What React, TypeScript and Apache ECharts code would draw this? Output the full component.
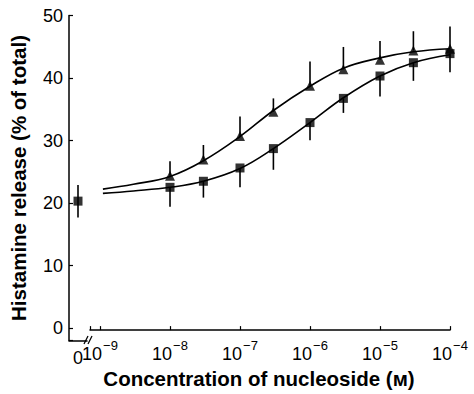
import React, { useEffect, useRef } from "react";
import * as echarts from "echarts";

// Concentrations (M)
const concentrations = [1e-8, 3e-8, 1e-7, 3e-7, 1e-6, 3e-6, 1e-5, 3e-5, 1e-4];
// Triangle series (mean, upward SEM)
const triangleValues = [23.5, 26.2, 30.1, 34.1, 38.4, 41.1, 42.7, 44.2, 44.5];
const triangleErrors = [2.4, 2.4, 3.2, 2.2, 4.0, 3.7, 3.1, 3.2, 3.7];
// Square series (mean, downward SEM)
const squareValues = [21.6, 22.6, 24.8, 28.0, 32.3, 36.3, 40.0, 42.2, 43.7];
const squareErrors = [3.2, 2.7, 3.2, 3.5, 2.9, 2.4, 3.4, 3.0, 3.1];
// Control (zero concentration)
const controlCategories = ["0"];
const controlValues = [20.3];
const controlErrors = [2.6];
// Fitted curves
const fitX = [1.1e-9, 3e-9, 1e-8, 3e-8, 1e-7, 3e-7, 1e-6, 3e-6, 1e-5, 3e-5, 1e-4];
const triangleFit = [21.3, 22.1, 23.4, 26.0, 30.0, 34.3, 38.3, 41.3, 43.0, 44.0, 44.5];
const squareFit = [20.6, 21.0, 21.6, 22.6, 24.7, 28.0, 32.3, 36.4, 40.0, 42.2, 43.5];
// Axis
const yTicks = [0, 10, 20, 30, 40, 50];
const yMin = -2;
const yMax = 50;
const xMin = Math.pow(10, -9.143);
const xMax = 1e-4;

const FONT = "'Liberation Sans', Arial, Helvetica, sans-serif";

export default function App() {
  const ref = useRef<HTMLDivElement>(null);
  useEffect(() => {
    if (!ref.current) return;
    const chart = echarts.init(ref.current, null, { renderer: "svg" });
    const black = "#000";
    const errRender = (params: any, api: any) => {
      const x = api.value(0);
      const v = api.value(1);
      const up = api.value(2);
      const down = api.value(3);
      const p1 = api.coord([x, v - down]);
      const p2 = api.coord([x, v + up]);
      return {
        type: "line",
        shape: { x1: p1[0], y1: p1[1], x2: p2[0], y2: p2[1] },
        style: { stroke: black, lineWidth: 1.6 },
      };
    };
    const axisLine = { show: true, onZero: false, lineStyle: { color: black, width: 1.5 } };
    const axisTick = { show: true, inside: true, length: 4, lineStyle: { color: black, width: 1.2 } };
    chart.setOption({
      animation: false,
      backgroundColor: "#fff",
      textStyle: { fontFamily: FONT },
      grid: [
        { left: 69, width: 18, top: 15.5, bottom: 53.5 },
        { left: 90, right: 24, top: 15.5, bottom: 53.5 },
      ],
      xAxis: [
        {
          type: "category",
          gridIndex: 0,
          data: controlCategories,
          boundaryGap: true,
          axisLine,
          axisTick: { show: false },
          axisLabel: { color: black, fontSize: 18, margin: 8, fontFamily: FONT },
          splitLine: { show: false },
        },
        {
          type: "log",
          gridIndex: 1,
          logBase: 10,
          min: xMin,
          max: xMax,
          axisLine,
          axisTick,
          splitLine: { show: false },
          minorTick: { show: false },
          axisLabel: {
            margin: 9,
            fontFamily: FONT,
            formatter: (v: number) => {
              const e = Math.log10(v);
              const r = Math.round(e);
              if (Math.abs(e - r) > 1e-6) return "";
              return "{b|10}{s|\u2212" + Math.abs(r) + "}";
            },
            rich: {
              b: { fontSize: 18, color: black, fontFamily: FONT, lineHeight: 24, verticalAlign: "bottom" },
              s: { fontSize: 13, color: black, fontFamily: FONT, lineHeight: 24, verticalAlign: "top", padding: [0, 0, 0, 1] },
            },
          },
          name: "Concentration of nucleoside (\u043c)",
          nameLocation: "middle",
          nameGap: 35,
          nameTextStyle: { color: black, fontSize: 20.5, fontWeight: "bold", fontFamily: FONT, padding: [0, 22, 0, 0] },
        },
      ],
      yAxis: [
        {
          type: "value",
          gridIndex: 0,
          min: yMin,
          max: yMax,
          splitNumber: 5,
          axisLine,
          axisTick,
          splitLine: { show: false },
          axisLabel: {
            color: black,
            fontSize: 18,
            margin: 6,
            fontFamily: FONT,
            formatter: (v: number) => (yTicks.indexOf(v) >= 0 ? String(v) : ""),
          },
          name: "Histamine release (% of total)",
          nameLocation: "middle",
          nameGap: 40,
          nameTextStyle: { color: black, fontSize: 20.5, fontWeight: "bold", fontFamily: FONT },
        },
        { type: "value", gridIndex: 1, min: yMin, max: yMax, show: false },
      ],
      graphic: [
        { type: "line", shape: { x1: 84, y1: 344, x2: 88, y2: 336 }, style: { stroke: black, lineWidth: 1.3 } },
        { type: "line", shape: { x1: 88, y1: 344, x2: 92, y2: 336 }, style: { stroke: black, lineWidth: 1.3 } },
      ],
      series: [
        {
          type: "line",
          xAxisIndex: 1,
          yAxisIndex: 1,
          data: fitX.map((x, i) => [x, triangleFit[i]]),
          smooth: 0.4,
          showSymbol: false,
          lineStyle: { color: black, width: 1.6 },
          z: 2,
        },
        {
          type: "line",
          xAxisIndex: 1,
          yAxisIndex: 1,
          data: fitX.map((x, i) => [x, squareFit[i]]),
          smooth: 0.4,
          showSymbol: false,
          lineStyle: { color: black, width: 1.6 },
          z: 2,
        },
        {
          type: "custom",
          xAxisIndex: 1,
          yAxisIndex: 1,
          renderItem: errRender,
          data: concentrations.map((x, i) => [x, triangleValues[i], triangleErrors[i], 0]),
          z: 3,
        },
        {
          type: "custom",
          xAxisIndex: 1,
          yAxisIndex: 1,
          renderItem: errRender,
          data: concentrations.map((x, i) => [x, squareValues[i], 0, squareErrors[i]]),
          z: 3,
        },
        {
          type: "custom",
          xAxisIndex: 0,
          yAxisIndex: 0,
          renderItem: errRender,
          data: controlValues.map((v, i) => [i, v, controlErrors[i], controlErrors[i]]),
          z: 3,
        },
        {
          type: "scatter",
          xAxisIndex: 1,
          yAxisIndex: 1,
          symbol: "triangle",
          symbolSize: 10,
          itemStyle: { color: black },
          data: concentrations.map((x, i) => [x, triangleValues[i]]),
          z: 4,
        },
        {
          type: "scatter",
          xAxisIndex: 1,
          yAxisIndex: 1,
          symbol: "rect",
          symbolSize: 9,
          itemStyle: { color: black },
          data: concentrations.map((x, i) => [x, squareValues[i]]),
          z: 4,
        },
        {
          type: "scatter",
          xAxisIndex: 0,
          yAxisIndex: 0,
          symbol: "rect",
          symbolSize: 9,
          itemStyle: { color: black },
          data: controlValues.map((v, i) => [i, v]),
          z: 4,
        },
      ],
    });
    return () => chart.dispose();
  }, []);
  return (
    <div
      ref={ref}
      style={{ position: "absolute", left: 0, top: 0, width: 474, height: 394 }}
    />
  );
}
